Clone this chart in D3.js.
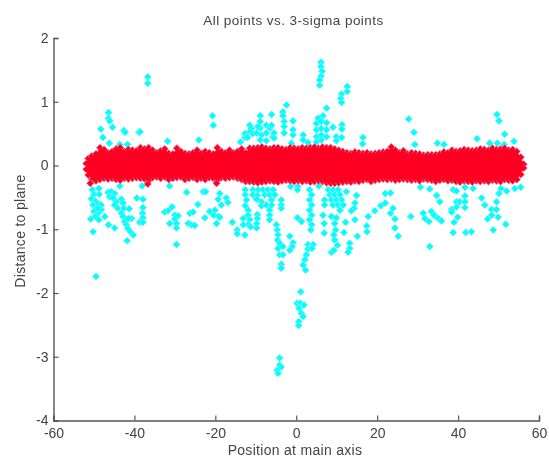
<!DOCTYPE html>
<html>
<head>
<meta charset="utf-8">
<script src="https://cdn.jsdelivr.net/npm/d3@7"></script>
<style>
html, body { margin: 0; padding: 0; background: #fff; }
svg { display: block; filter: blur(0.5px); }
text { font-family: "Liberation Sans", Arial, sans-serif; fill: #444; }
</style>
</head>
<body>
<div id="chart"></div>
<script>
var xTicks = [-60, -40, -20, 0, 20, 40, 60];
var yTicks = [-4, -3, -2, -1, 0, 1, 2];

// 3-sigma outliers as [position, distance]
var upperPoints = [
  [-36.7,1.39],[-36.7,1.29],[-46.4,.83],[-46.4,.74],[-46.1,.70],[-45.4,.60],[-48.3,.57],[-47.8,.44],
  [-42.6,.55],[-42.3,.52],[-38.9,.52],[-38.6,.53],[-46.2,.35],[-43.6,.33],[-41.7,.33],[-31.8,.38],
  [-24.1,.40],[-20.7,.78],[-20.5,.63],[-13.8,.37],[-12.7,.50],[-12.7,.44],[-11.5,.63],[-11.1,.58],
  [-11.5,.53],[-10.7,.50],[-12,.44],[-8.9,.78],[-8.9,.69],[-8.9,.59],[-8.6,.48],[-9.5,.61],[-9.8,.51],
  [-8.9,.40],[-6.1,.80],[-7.4,.63],[-6.5,.59],[-7.4,.51],[-6.1,.63],[-5.8,.45],[-5.5,.51],[-5.5,.43],
  [-7.4,.39],[-2.4,.95],[-3.3,.84],[-3.3,.78],[-.8,.70],[-3,.69],[-3,.61],[-3,.51],[-.8,.56],[-.8,.48],
  [-1.2,.35],[1.7,.48],[1.7,.40],[2.9,.36],[6.1,1.62],[6.1,1.55],[6.4,1.48],[6.1,1.40],[5.8,1.34],
  [5.8,1.26],[12.6,1.24],[12.6,1.16],[11.2,1.12],[11,1.05],[11.2,.99],[7.5,.90],[6.6,.78],[5.4,.74],
  [5,.66],[6.2,.69],[7.5,.67],[5,.56],[6.2,.58],[7.5,.56],[5,.45],[6.2,.48],[7.5,.45],[5,.37],[6.2,.40],
  [9.1,.60],[11.3,.64],[11.3,.57],[9.9,.45],[11.2,.44],[9.9,.39],[16.5,.44],[16.4,.34],[27.8,.73],
  [29.1,.52],[29.3,.33],[34.9,.35],[36.5,.33],[44.7,.42],[47.8,.35],[49.7,.35],[51.4,.33],[49.6,.80],
  [50.1,.70],[51.5,.49],[53.8,.38]
];
var lowerLeftPoints = [
  [-50.4,-.38],[-50,-.45],[-50.6,-.52],[-49.6,-.56],[-50.2,-.62],[-49.2,-.66],[-50,-.72],[-49,-.75],
  [-49.6,-.80],[-48.7,-.45],[-48.8,-.36],[-49,-.6],[-48.8,-.85],[-50.8,-.84],[-50.2,-1.04],[-49.5,-1.74],
  [-48.2,-.62],[-48.2,-.69],[-49,-.67],[-47.3,-.80],[-46.4,-.93],[-44.9,-.98],[-46.5,-.42],[-45.7,-.41],
  [-44.9,-.44],[-46.1,-.49],[-45.3,-.51],[-44.5,-.57],[-43.2,-.53],[-42.8,-.59],[-44.9,-.62],[-44.1,-.67],
  [-42.6,-.67],[-43.2,-.75],[-42.8,-.80],[-42.4,-.88],[-42,-.93],[-41.6,-.99],[-41,-1.04],[-40.3,-1.09],
  [-41.3,-.68],[-40.7,-.83],[-41.5,-.83],[-41.8,-1.18],[-39.4,-.51],[-37.9,-.53],[-37.9,-.66],[-38,-.75],
  [-37.9,-.82],[-38.7,-.89],[-37.9,-.89],[-43.6,-.32],[-38.1,-.32],[-31.3,-.32],[-27.1,-.42],[-23,-.41],
  [-22.4,-.41],[-24.3,-.61],[-30.7,-.65],[-32.5,-.73],[-31.7,-.71],[-30,-.78],[-29.2,-.79],[-30,-.84],
  [-29.6,-.91],[-29.6,-.98],[-31.3,-.91],[-29.6,-1.24],[-26.3,-.75],[-25.5,-.73],[-26.7,-.91],[-25.9,-.93],
  [-25.1,-.94],[-22.6,-.82],[-21.4,-.72],[-20.1,-.70],[-20.4,-.78],[-19.3,-.80],[-19.7,-.91],[-18.9,-.44],
  [-19.3,-.53],[-17.3,-.51],[-16.9,-.58],[-18.5,-.62],[-18.9,-.81],[-15.8,-.89],[-14.6,-1.01],[-14.6,-1.07],
  [-12.7,-1.09]
];
var lowerCenterPoints = [
  [-12.6,-.38],[-12.6,-.46],[-12.3,-.54],[-12.6,-.63],[-11.9,-.70],[-13.1,-.83],[-11.9,-.78],[-11.5,-.85],
  [-11.9,-.93],[-11.3,-.96],[-13.1,-.93],[-10.7,-.38],[-9.4,-.38],[-8.2,-.38],[-7,-.38],[-5.7,-.38],
  [-10.7,-.46],[-7.8,-.46],[-6.6,-.46],[-5.3,-.46],[-9.6,-.47],[-9.8,-.53],[-8.6,-.57],[-8.6,-.63],
  [-7.4,-.62],[-6.1,-.54],[-6.1,-.62],[-6.6,-.70],[-6.6,-.78],[-6.6,-.85],[-9.6,-.77],[-9.6,-.83],
  [-9.8,-.91],[-9.8,-.98],[-3.7,-.54],[-3.7,-.62],[-3.7,-.67],[-4.9,-.93],[-4.7,-1.01],[-4.5,-1.09],
  [-4.6,-1.17],[-4.1,-1.22],[-4.5,-1.30],[-3.3,-1.27],[-4.1,-1.40],[-3.3,-1.40],[-3.7,-1.55],[-3.7,-1.61],
  [-1.6,-1.11],[-.8,-1.21],[-1,-1.27],[-1.6,-1.33],[-1.4,-.33],[.4,-.33],[.3,-.38],[.3,-.82],[1.3,-.88],
  [3.3,-.38],[3.8,-.46],[3.3,-.54],[3.8,-.62],[3.3,-.70],[3.8,-.78],[3.3,-.85],[3.8,-.93],[3.6,-1.01],
  [2.9,-1.24],[4.2,-1.24],[2.9,-1.31],[3.9,-1.30],[2.5,-1.40],[2.1,-1.48],[1.7,-1.56],[2.3,-1.64],
  [7,-.54],[7,-.62],[6.6,-.78],[6.9,-.91],[6.9,-1.06],[5.6,-.32],[7.9,-.38],[9.1,-.38],[10.3,-.38],
  [8.3,-.46],[9.5,-.46],[10.8,-.46],[8.7,-.54],[9.9,-.54],[11.2,-.54],[9.1,-.62],[10.3,-.62],[11.6,-.62],
  [10.8,-.70],[12.4,-.41],[14.9,-.47],[14.5,-.59],[14.3,-.67],[13.6,-.71],[8.7,-.80],[9.9,-.82],[9.5,-.91],
  [9.7,-1.01],[9.3,-1.09],[9.5,-1.17],[10.2,-1.25],[8.7,-1.36],[9.3,-1.33],[14.5,-.85],[12.2,-.89],
  [11.8,-1.05],[15.1,-1.11],[13.2,-1.22],[13.2,-1.30],[12.8,-1.36]
];
var lowerRightPoints = [
  [17.8,-.80],[19.4,-.71],[20.9,-.63],[22,-.59],[22,-.44],[23.3,-.43],[17.4,-.95],[17.5,-1.04],[23.9,-.67],
  [23.3,-.75],[24.4,-.84],[24.4,-.98],[25.2,-1.11],[28.3,-.80],[30.7,-.34],[33,-.37],[34.7,-.47],[35.5,-.57],
  [31.4,-.75],[33.4,-.72],[34.1,-.78],[31.8,-.83],[32.8,-.88],[35.1,-.83],[35.9,-.87],[33,-1.27],[38.8,-.38],
  [39.6,-.40],[41.7,-.34],[43.7,-.36],[41.7,-.48],[39.6,-.57],[40.4,-.57],[41.7,-.57],[38.4,-.69],[39.6,-.65],
  [41.7,-.66],[38.4,-.73],[39.9,-.81],[39,-.89],[38.8,-1.05],[41.9,-1.05],[43.3,-1.04],[45.8,-.51],[46.6,-.62],
  [48.3,-.69],[49.5,-.69],[48.3,-.78],[47.3,-.84],[49.9,-.81],[48.7,-1.01],[51.8,-.92],[49.5,-.57],[50.1,-.44],
  [50.6,-.36],[52,-.40],[54,-.36],[55.5,-.34]
];
var deepPoints = [
  [1.1,-1.98],[.2,-2.16],[1,-2.16],[1.9,-2.19],[.7,-2.24],[1.3,-2.32],[1.7,-2.37],[.6,-2.45],[.6,-2.51],
  [-4.1,-3.02],[-4.1,-3.13],[-3.7,-3.16],[-4.7,-3.21],[-4.5,-3.26]
];

// red band of inliers: outline of the dense cloud at each position
var bandX = [-51.9,-51.4,-50.5,-49.5,-48.5,-47.5,-46.5,-45.5,-44.5,-43.5,-42.5,-41.5,-40.5,-39.5,-38.5,-37.5,-36.5,-35.5,-34.5,-33.5,-32.5,-31.5,-30.5,-29.5,-28.5,-27.5,-26.5,-25.5,-24.5,-23.5,-22.5,-21.5,-20.5,-19.5,-18.5,-17.5,-16.5,-15.5,-14.5,-13.5,-12.5,-11.5,-10.5,-9.5,-8.5,-7.5,-6.5,-5.5,-4.5,-3.5,-2.5,-1.5,-.5,.5,1.5,2.5,3.5,4.5,5.5,6.5,7.5,8.5,9.5,10.5,11.5,12.5,13.5,14.5,15.5,16.5,17.5,18.5,19.5,20.5,21.5,22.5,23.5,24.5,25.5,26.5,27.5,28.5,29.5,30.5,31.5,32.5,33.5,34.5,35.5,36.5,37.5,38.5,39.5,40.5,41.5,42.5,43.5,44.5,45.5,46.5,47.5,48.5,49.5,50.5,51.5,52.5,53.5,54.5,55.5,56.2];
var bandTop = [.03,.11,.15,.18,.28,.25,.20,.22,.26,.28,.22,.25,.24,.23,.28,.26,.28,.24,.20,.23,.26,.19,.18,.27,.22,.19,.18,.20,.24,.19,.22,.20,.18,.28,.22,.20,.24,.20,.22,.26,.20,.27,.27,.28,.29,.27,.26,.28,.28,.26,.25,.28,.27,.26,.28,.27,.28,.29,.27,.29,.28,.28,.26,.24,.22,.20,.19,.21,.20,.19,.20,.18,.19,.20,.21,.22,.29,.24,.20,.23,.18,.20,.19,.18,.16,.17,.17,.17,.18,.21,.20,.24,.22,.23,.25,.24,.23,.24,.26,.25,.24,.27,.25,.26,.27,.24,.25,.22,.13,.02];
var bandBottom = [-.06,-.15,-.22,-.24,-.22,-.20,-.21,-.20,-.22,-.23,-.20,-.21,-.20,-.19,-.20,-.21,-.24,-.19,-.18,-.20,-.18,-.22,-.20,-.19,-.18,-.22,-.20,-.19,-.22,-.20,-.22,-.19,-.20,-.23,-.19,-.20,-.19,-.18,-.20,-.22,-.25,-.25,-.26,-.27,-.26,-.25,-.24,-.25,-.26,-.24,-.23,-.24,-.25,-.24,-.25,-.24,-.26,-.25,-.24,-.25,-.27,-.28,-.28,-.27,-.26,-.25,-.26,-.24,-.25,-.23,-.22,-.25,-.23,-.22,-.21,-.22,-.21,-.23,-.22,-.21,-.22,-.23,-.22,-.24,-.21,-.22,-.23,-.25,-.23,-.22,-.24,-.23,-.25,-.26,-.24,-.25,-.26,-.24,-.25,-.24,-.25,-.23,-.24,-.25,-.22,-.23,-.24,-.22,-.14,-.04];
var redStrays = [[-50.9,-.28],[-36.7,-.29],[-19.7,-.28]];

var width = 549;
var height = 459;
var left = 53.5, right = 539, top_ = 38, bottom = 420.5;

var svg = d3.select("#chart").append("svg")
            .attr("width", width)
            .attr("height", height);

var xScale = d3.scaleLinear().domain([-60, 60]).range([left, right]);
var yScale = d3.scaleLinear().domain([-4, 2]).range([bottom, top_]);

var diamond = d3.symbol().type(d3.symbolDiamond2).size(36);

function drawMarkers(points, color, edge) {
    svg.append("g").selectAll("path")
        .data(points)
        .enter().append("path")
        .attr("d", diamond)
        .attr("transform", function(d){ return "translate(" + xScale(d[0]) + "," + yScale(d[1]) + ")"; })
        .attr("fill", color)
        .attr("stroke", edge)
        .attr("stroke-width", 0.6);
}

// outliers first, red band is painted over them
var cyanPoints = upperPoints.concat(lowerLeftPoints, lowerCenterPoints, lowerRightPoints, deepPoints);
drawMarkers(cyanPoints, "#00ffff", "#b8e8ee");

var band = bandX.map(function(x, i){ return {x: x, top: bandTop[i], bottom: bandBottom[i]}; });
var bandTopPoints = band.map(function(d){ return [d.x, d.top]; });
var bandBottomPoints = band.map(function(d){ return [d.x, d.bottom]; });

drawMarkers(bandTopPoints, "#ff0022", "#d8a0c8");
drawMarkers(bandBottomPoints, "#ff0022", "#d8a0c8");
drawMarkers(redStrays, "#ff0022", "#d8a0c8");

var area = d3.area()
    .x(function(d){ return xScale(d.x); })
    .y0(function(d){ return yScale(d.bottom); })
    .y1(function(d){ return yScale(d.top); });
svg.append("path").datum(band).attr("d", area).attr("fill", "#ff0022");

// MATLAB style axes, ticks point inward
var xAxis = d3.axisBottom(xScale).tickValues(xTicks).tickSize(-5).tickPadding(8).tickFormat(function(d){ return String(d); });
var yAxis = d3.axisLeft(yScale).tickValues(yTicks).tickSize(-5).tickPadding(5).tickFormat(function(d){ return String(d); });

var gx = svg.append("g").attr("transform", "translate(0," + bottom + ")").call(xAxis);
var gy = svg.append("g").attr("transform", "translate(" + left + ",0)").call(yAxis);

[gx, gy].forEach(function(g){
    g.select(".domain").attr("stroke", "#555").attr("stroke-width", 1.4);
    g.selectAll(".tick line").attr("stroke", "#555").attr("stroke-width", 1.2);
    g.selectAll("text").style("font-size", "14px").style("font-family", "'Liberation Sans', Arial, sans-serif").attr("fill", "#444");
});

svg.append("text").attr("x", 293.5).attr("y", 25)
    .attr("text-anchor", "middle")
    .style("font-size", "13.5px")
    .style("letter-spacing", "0.45px")
    .text("All points vs. 3-sigma points");

svg.append("text").attr("x", 295).attr("y", 455)
    .attr("text-anchor", "middle")
    .style("font-size", "14px")
    .style("letter-spacing", "0.3px")
    .text("Position at main axis");

svg.append("text")
    .attr("transform", "translate(25,231) rotate(-90)")
    .attr("text-anchor", "middle")
    .style("font-size", "14px")
    .style("letter-spacing", "0.3px")
    .text("Distance to plane");
</script>
</body>
</html>
